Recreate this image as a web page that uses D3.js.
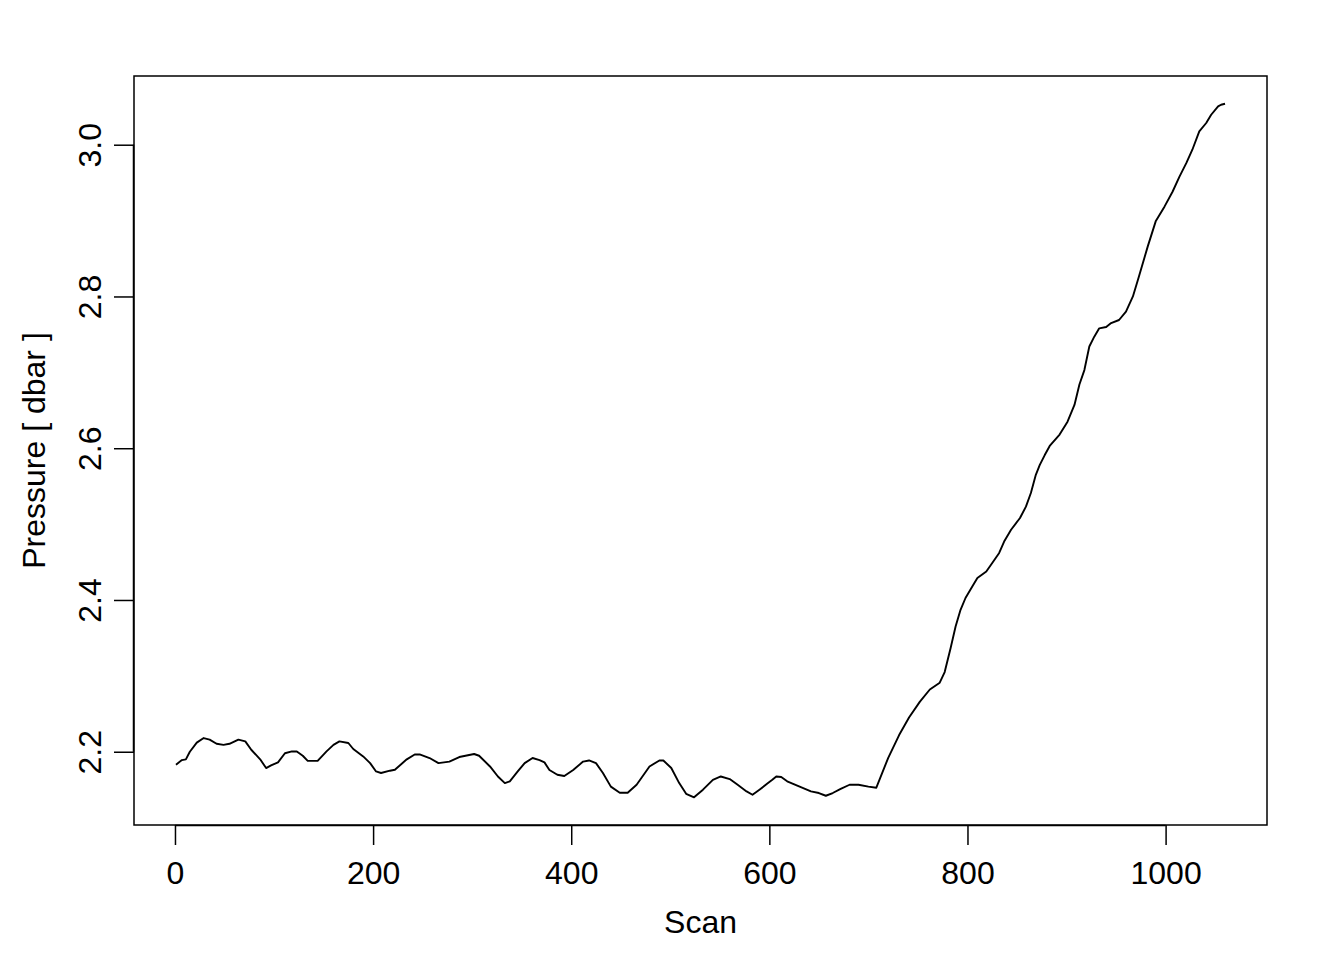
<!DOCTYPE html>
<html><head><meta charset="utf-8">
<script src="https://cdn.jsdelivr.net/npm/d3@7"></script>
<style>body{margin:0;background:#fff}svg{display:block}text{font-family:"Liberation Sans",Arial,sans-serif;fill:#000}</style>
</head><body>
<svg id="c" width="1344" height="960"></svg>
<script>
const scans = [1,7,11,15,22,29,35,42,49,55,64,71,77,86,92,97,104,111,118,123,129,134,144,153,160,166,175,180,190,197,203,208,217,222,234,242,247,257,266,277,287,302,307,318,326,333,338,346,353,361,368,373,378,386,393,402,412,418,425,432,440,449,457,466,479,489,493,501,509,516,524,533,543,551,560,568,577,583,590,598,603,607,612,618,630,642,650,657,664,672,681,690,700,708,720,731,741,752,762,772,777,783,788,793,798,805,810,819,825,832,837,844,853,859,864,869,873,878,883,893,901,908,913,918,923,928,933,940,945,953,960,967,973,982,990,999,1007,1014,1021,1027,1034,1041,1046,1053,1056,1060];
const pressure = [2.183,2.189,2.190,2.200,2.212,2.218,2.216,2.2105,2.209,2.2105,2.216,2.2136,2.2026,2.190,2.1785,2.182,2.186,2.198,2.2004,2.2004,2.1947,2.188,2.188,2.2004,2.209,2.2136,2.2115,2.2036,2.1938,2.185,2.174,2.172,2.175,2.1763,2.190,2.1964,2.1964,2.1917,2.185,2.187,2.193,2.197,2.1947,2.1806,2.1674,2.1587,2.161,2.174,2.185,2.1917,2.189,2.186,2.176,2.1697,2.168,2.176,2.187,2.1885,2.185,2.172,2.154,2.146,2.146,2.1565,2.1806,2.1885,2.1885,2.1785,2.1587,2.1446,2.140,2.150,2.163,2.1674,2.164,2.1565,2.1477,2.1433,2.150,2.158,2.163,2.1674,2.1667,2.161,2.1543,2.1477,2.1456,2.142,2.1456,2.151,2.1565,2.1565,2.154,2.1526,2.192,2.222,2.245,2.266,2.282,2.291,2.305,2.3367,2.365,2.387,2.4026,2.418,2.429,2.4376,2.4487,2.462,2.477,2.4926,2.508,2.523,2.541,2.565,2.578,2.591,2.603,2.618,2.635,2.657,2.684,2.703,2.734,2.747,2.758,2.7597,2.765,2.769,2.780,2.800,2.826,2.866,2.899,2.9187,2.938,2.958,2.976,2.9934,3.0175,3.0286,3.0395,3.0505,3.0527,3.054];
const xTicks = [0,200,400,600,800,1000];
const yTicks = [2.2,2.4,2.6,2.8,3.0];
const xLabel = "Scan";
const yLabel = "Pressure [ dbar ]";

const svg = d3.select("#c");
const L=134,R=1267,T=76,B=825;
const pad=(e)=>{const d=(e[1]-e[0])*0.04;return [e[0]-d,e[1]+d];};
const x = d3.scaleLinear().domain(pad(d3.extent(scans))).range([L,R]);
const y = d3.scaleLinear().domain(pad(d3.extent(pressure))).range([B,T]);
const data = scans.map((s,i)=>[s,pressure[i]]);

svg.append("path").datum(data)
  .attr("fill","none").attr("stroke","#000").attr("stroke-width",1.9).attr("stroke-linejoin","round")
  .attr("d",d3.line().x(d=>x(d[0])).y(d=>y(d[1])));

svg.append("rect").attr("x",L).attr("y",T).attr("width",R-L).attr("height",B-T)
  .attr("fill","none").attr("stroke","#000").attr("stroke-width",1.5);

const fs=32;
const gx = svg.append("g").attr("transform",`translate(0,${B})`)
  .call(d3.axisBottom(x).tickValues(xTicks).tickSize(20).tickPadding(16).tickFormat(d3.format("d")));
gx.select(".domain").attr("d",`M${x(0)},0.5H${x(1000)}`).attr("stroke-width",1.5);
gx.selectAll(".tick line").attr("stroke-width",1.5);
gx.selectAll("text").attr("font-size",fs).attr("font-family","Liberation Sans, Arial, sans-serif");

const gy = svg.append("g").attr("transform",`translate(${L},0)`)
  .call(d3.axisLeft(y).tickValues(yTicks).tickSize(20).tickFormat(d3.format(".1f")));
gy.select(".domain").attr("d",`M-0.5,${y(2.2)}V${y(3.0)}`).attr("stroke-width",1.5);
gy.selectAll(".tick line").attr("stroke-width",1.5);
gy.selectAll("text").attr("font-size",fs).attr("font-family","Liberation Sans, Arial, sans-serif")
  .attr("transform","rotate(-90)").attr("x",0).attr("y",-44).attr("dy","0").attr("text-anchor","middle")
  .attr("dominant-baseline","central");

svg.append("text").attr("x",(L+R)/2).attr("y",933).attr("text-anchor","middle").attr("font-size",fs).text(xLabel);
svg.append("text").attr("transform",`translate(45,${(T+B)/2}) rotate(-90)`).attr("text-anchor","middle").attr("font-size",fs).text(yLabel);
</script>
</body></html>
